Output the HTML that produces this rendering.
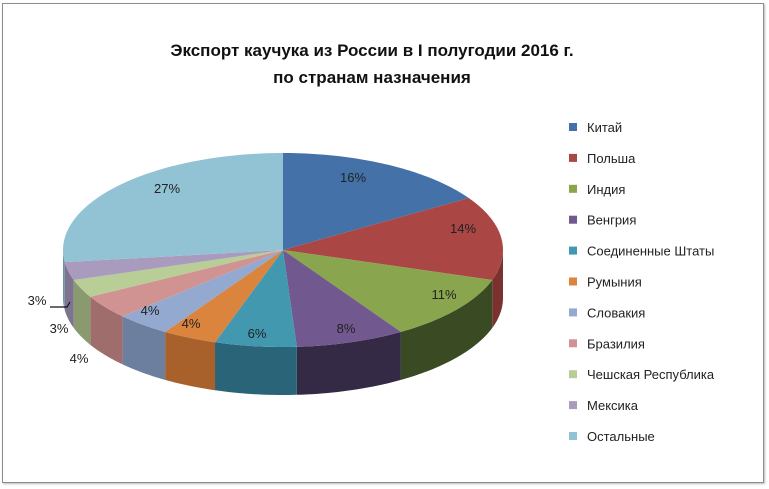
<!DOCTYPE html>
<html><head><meta charset="utf-8"><style>
body{margin:0;background:#fff;}
#f{position:absolute;left:2px;top:3px;width:760px;height:478px;border:1px solid #8c8c8c;box-shadow:1px 1px 2px #bbb;}
svg{position:absolute;left:0;top:0;}
text{font-family:"Liberation Sans","DejaVu Sans",sans-serif;}
</style></head><body>
<div id="f"></div>
<svg width="769" height="489" id="s">
<text x="372" y="56" text-anchor="middle" font-size="17" font-weight="bold" fill="#111">Экспорт каучука из России в I полугодии 2016 г.</text>
<text x="372" y="83" text-anchor="middle" font-size="17" font-weight="bold" fill="#111">по странам назначения</text>
<g id="pie"></g>
<g id="lab" font-size="13" fill="#222" text-anchor="middle">
<text x="353" y="182">16%</text><text x="463" y="233">14%</text><text x="444" y="299">11%</text>
<text x="346" y="333">8%</text><text x="257" y="338">6%</text><text x="191" y="328">4%</text>
<text x="150" y="315">4%</text><text x="167" y="193">27%</text>
<text x="37" y="305">3%</text><text x="59" y="333">3%</text><text x="79" y="363">4%</text>
</g>
<path d="M50,307 L67,307 L70,302" stroke="#111" fill="none" stroke-width="1.2"/>
<g id="leg" font-size="13" fill="#222"></g>
</svg>
<script>
(function(){
var d=[16,14,11,8,6,4,4,4,3,3,27];
var c=["#4472A8","#AA4643","#89A54E","#71588F","#4198AF","#DB843D","#93A9CF","#D19392","#B9CD96","#A99BBD","#92C3D5"];
var sc=["#2f507a","#7a3230","#3a4a22","#352a45","#2a6478","#a8612a","#6d7f9e","#9e6d6c","#8a9a6f","#7e7490","#6d94a2"];
var n=["Китай","Польша","Индия","Венгрия","Соединенные Штаты","Румыния","Словакия","Бразилия","Чешская Республика","Мексика","Остальные"];
var cx=283,cy=250,rx=220,ry=97,dp=48;
function P(a,y){a=a*Math.PI/180;return [cx+rx*Math.sin(a),(y||0)+cy-ry*Math.cos(a)];}
var side="",tops="",a=0;
for(var i=0;i<d.length;i++){
 var a1=a,a2=a+d[i]*3.6;a=a2;
 var s1=Math.max(a1,90),s2=Math.min(a2,270);
 if(s2>s1){var p=[];for(var t=s1;t<=s2+0.001;t+=1){p.push(P(Math.min(t,s2)));}p.push(P(s2));
  var q=p.map(function(v){return v[0]+","+v[1]}).join(" ");
  var r=p.slice().reverse().map(function(v){return v[0]+","+(v[1]+dp)}).join(" ");
  side+='<polygon points="'+q+' '+r+'" fill="'+sc[i]+'"/>';}
 var pp=[[cx,cy]];for(var t=a1;t<=a2+0.001;t+=1)pp.push(P(Math.min(t,a2)));pp.push(P(a2));
 tops+='<polygon points="'+pp.map(function(v){return v[0]+","+v[1]}).join(" ")+'" fill="'+c[i]+'"/>';
}
document.getElementById("pie").innerHTML=side+tops;
var L="";for(var i=0;i<n.length;i++){var y=127+i*30.9;
 L+='<rect x="569" y="'+(y-4)+'" width="8" height="8" fill="'+c[i]+'"/><text x="587" y="'+(y+5)+'">'+n[i]+'</text>';}
document.getElementById("leg").innerHTML=L;
})();
</script>
</body></html>
